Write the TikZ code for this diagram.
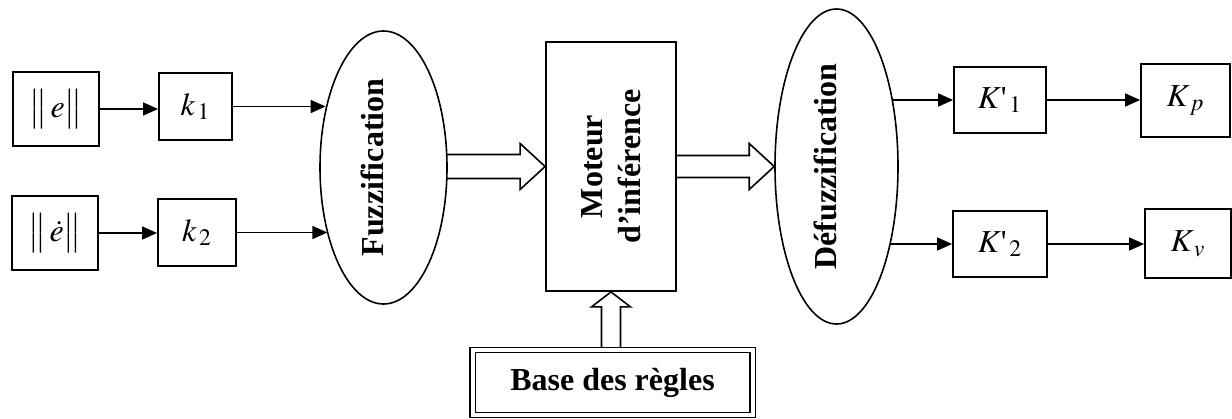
\documentclass[tikz,border=0pt]{standalone}
\usepackage{mathptmx}
\usepackage[no-math]{fontspec}
\setmainfont{Liberation Serif}
\usepackage{graphicx}
\usetikzlibrary{shapes.geometric,arrows.meta,calc}

\begin{document}
\begin{tikzpicture}[x=0.5pt, y=-0.5pt,
  blk/.style={draw, line width=0.9pt, inner sep=0pt, font=\fontsize{16}{19}\selectfont},
  ell/.style={ellipse, draw, line width=0.8pt, inner sep=0pt},
  arr/.style={-{Triangle[length=7.5pt,width=6.5pt]}, line width=0.8pt},
  fat/.style={line width=0.8pt},
  vtext/.style={rotate=90, inner sep=0pt, font=\fontsize{16}{19}\selectfont\bfseries},
]
\useasboundingbox (0,0) rectangle (1232,418);

%inputs
\node[blk, minimum width=43pt, minimum height=37pt] (e) at (56,109) {$\big\|\, e \big\|$};
\node[blk, minimum width=36.5pt, minimum height=33.5pt] (k1) at (195.5,106.5) {$k_{\,1}$};
\node[blk, minimum width=43pt, minimum height=37pt] (de) at (55,233) {$\big\|\, \dot{e} \big\|$};
\node[blk, minimum width=39pt, minimum height=33.5pt] (k2) at (197,232.5) {$k_{\,2}$};

%fuzzy blocks
\node[ell, minimum width=63.5pt, minimum height=136.5pt] (fuzz) at (383.5,167.5) {};
\node[vtext, anchor=base] (fuzzlbl) at (fuzz.center) {Fuzzification};

\node[blk, minimum width=65pt, minimum height=124.5pt] (moteur) at (611,166.5) {};
\node[vtext, align=center] (moteurlbl) at (moteur.center) {Moteur\\d’inférence};

\node[ell, minimum width=61.5pt, minimum height=157.5pt] (defuzz) at (836.5,166.5) {};
\node[vtext, anchor=base] (defuzzlbl) at (defuzz.center) {Défuzzification};

\node[draw, double, double distance=2pt, line width=0.6pt, minimum width=140pt, minimum height=32.5pt,
  font=\fontsize{16}{19}\selectfont\bfseries] (base) at (612.5,382.5) {Base des règles};

%outputs
\node[blk, minimum width=46pt, minimum height=33pt] (K1) at (1000,100) {$K\mbox{\textquotesingle}_{\,1}$};
\node[blk, minimum width=44.5pt, minimum height=36.5pt] (Kp) at (1185.5,100.5) {$K_{\,p}$};
\node[blk, minimum width=47pt, minimum height=33pt] (K2) at (1000,244) {$K\mbox{\textquotesingle}_{\,2}$};
\node[blk, minimum width=43pt, minimum height=34.5pt] (Kv) at (1188,243.5) {$K_{\,v}$};

%arrows
\draw[arr] (e.east) -- (e.east -| k1.west);
\draw[arr] (k1.east) -- (k1.east -| fuzz.134);
\draw[arr] (de.east) -- (de.east -| k2.west);
\draw[arr] (k2.east) -- (k2.east -| fuzz.230);

\draw[arr] (K1.west -| defuzz.50) -- (K1.west);
\draw[arr] (K1.east) -- (K1.east -| Kp.west);
\draw[arr] (K2.west -| defuzz.305) -- (K2.west);
\draw[arr] (K2.east) -- (K2.east -| Kv.west);

%hollow arrows
\draw[fat] ($(moteur.west)+(-98,-12)$) -- ($(moteur.west)+(-25,-12)$) -- ($(moteur.west)+(-25,-23)$)
  -- (moteur.west) -- ($(moteur.west)+(-25,23)$) -- ($(moteur.west)+(-25,12)$) -- ($(moteur.west)+(-98,12)$);
\draw[fat] ($(defuzz.west)+(-99,-11)$) -- ($(defuzz.west)+(-25,-11)$) -- ($(defuzz.west)+(-25,-23)$)
  -- (defuzz.west) -- ($(defuzz.west)+(-25,23)$) -- ($(defuzz.west)+(-25,11)$) -- ($(defuzz.west)+(-99,11)$);
\draw[fat] ($(moteur.south)+(-9.5,56)$) -- ($(moteur.south)+(-9.5,15)$) -- ($(moteur.south)+(-19.5,15)$)
  -- (moteur.south) -- ($(moteur.south)+(19.5,15)$) -- ($(moteur.south)+(9.5,15)$) -- ($(moteur.south)+(9.5,56)$);

\end{tikzpicture}
\end{document}
